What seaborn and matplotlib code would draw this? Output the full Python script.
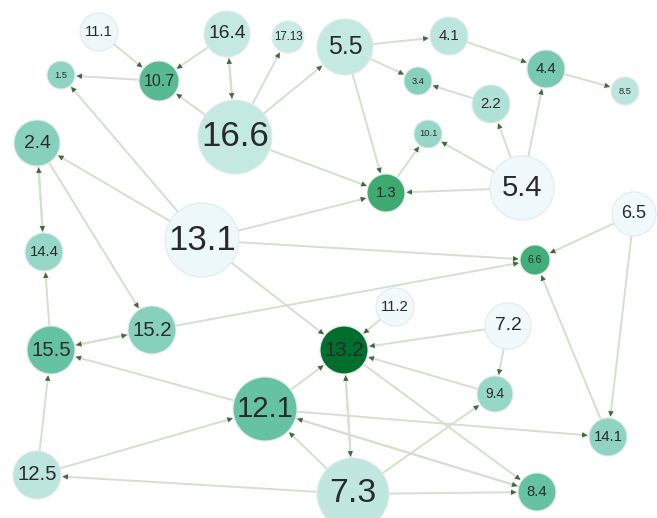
import matplotlib
matplotlib.use("Agg")
import matplotlib.pyplot as plt
import seaborn as sns
import pandas as pd

# Node data (layout position in pixels, node size, colour intensity)
labels = ["11.1", "16.4", "17.13", "5.5", "4.1", "1.5", "10.7", "3.4", "4.4", "8.5",
          "16.6", "2.2", "10.1", "2.4", "5.4", "1.3", "6.5", "13.1", "14.4", "6.6",
          "11.2", "7.2", "15.2", "15.5", "13.2", "9.4", "12.1", "14.1", "12.5", "7.3", "8.4"]
node_x = [99, 227, 288, 345, 449, 61, 159, 418, 546, 625,
          235, 491, 428, 37, 522, 386, 634, 202, 44, 535,
          395, 508, 152, 51, 344, 495, 265, 608, 37, 353, 537]
node_y = [32, 34, 37, 47, 36, 75, 81, 81, 69, 91,
          137, 104, 134, 143, 188, 193, 214, 240, 252, 260,
          307, 326, 330, 350, 350, 394, 409, 437, 475, 494, 492]
node_size = [19, 23, 16, 28, 19, 14, 20, 14, 19, 14,
             37, 19, 14, 23, 32, 19, 22, 37, 19, 15,
             19, 23, 24, 24, 24, 18, 32, 19, 24, 36, 19]
shade = [0.07, 0.27, 0.26, 0.27, 0.29, 0.40, 0.55, 0.42, 0.46, 0.29,
         0.27, 0.32, 0.38, 0.42, 0.06, 0.64, 0.05, 0.07, 0.38, 0.62,
         0.05, 0.05, 0.42, 0.50, 0.87, 0.38, 0.50, 0.40, 0.29, 0.28, 0.50]

# Directed edges
edge_src = ["11.1", "16.4", "10.7", "16.6", "16.6", "16.4", "16.6", "16.6", "16.6", "5.5",
            "5.5", "5.5", "4.1", "4.4", "2.2", "5.4", "5.4", "5.4", "5.4", "1.3",
            "13.1", "13.1", "13.1", "13.1", "13.1", "2.4", "14.4", "2.4", "15.5", "15.2",
            "15.5", "15.2", "6.5", "6.5", "14.1", "11.2", "7.2", "7.2", "9.4", "12.1",
            "12.1", "12.1", "12.1", "8.4", "13.2", "7.3", "13.2", "12.5", "12.5", "7.3",
            "7.3", "7.3", "7.3"]
edge_dst = ["10.7", "10.7", "1.5", "10.7", "16.4", "16.6", "17.13", "5.5", "1.3", "4.1",
            "3.4", "1.3", "4.4", "8.5", "3.4", "2.2", "4.4", "10.1", "1.3", "10.1",
            "1.5", "2.4", "1.3", "6.6", "13.2", "14.4", "2.4", "15.2", "14.4", "15.5",
            "15.2", "6.6", "6.6", "14.1", "6.6", "13.2", "13.2", "9.4", "13.2", "15.5",
            "13.2", "14.1", "8.4", "12.1", "7.3", "13.2", "8.4", "15.5", "12.1", "12.5",
            "12.1", "9.4", "8.4"]

nodes = pd.DataFrame({"label": labels, "x": node_x, "y": node_y,
                      "size": node_size, "shade": shade})
px2pt = 72 / 100
nodes["area"] = (2 * nodes["size"] * px2pt) ** 2
pos = nodes.set_index("label")

sns.set_style("white")
plt.rcParams["font.family"] = ["Liberation Sans", "DejaVu Sans"]

fig = plt.figure(figsize=(6.57, 5.18), dpi=100)
ax = fig.add_axes([0, 0, 1, 1])

# edge lines
for s, d in zip(edge_src, edge_dst):
    a, b = pos.loc[s], pos.loc[d]
    ax.annotate("", xy=(b.x, b.y), xytext=(a.x, a.y), zorder=1,
                arrowprops=dict(arrowstyle="-", color="#d5dfcf", lw=1.4,
                                shrinkA=a["size"] * px2pt, shrinkB=b["size"] * px2pt + 2))

# arrow heads on top of the lines, darker green
for s, d in zip(edge_src, edge_dst):
    a, b = pos.loc[s], pos.loc[d]
    ax.annotate("", xy=(b.x, b.y), xytext=(a.x, a.y), zorder=1.5,
                arrowprops=dict(arrowstyle="-|>,head_length=0.45,head_width=0.22",
                                color="#3f6a3a", lw=0, mutation_scale=9,
                                shrinkA=a["size"] * px2pt, shrinkB=b["size"] * px2pt + 1))

amin, amax = nodes["area"].min(), nodes["area"].max()
sns.scatterplot(data=nodes, x="x", y="y", hue="shade", palette="BuGn", hue_norm=(0, 1),
                size="area", sizes=(amin, amax), size_norm=(amin, amax),
                edgecolor="#e2eaec", linewidth=0.8, legend=False, ax=ax, zorder=2)

for _, n in nodes.iterrows():
    fs = max(6.5, 0.8 * n["size"] - 4.5)
    ax.text(n.x, n.y, n.label, ha="center", va="center", fontsize=fs,
            color="#2a2a2a", zorder=3)

ax.set_xlim(0, 657)
ax.set_ylim(518, 0)
ax.axis("off")

fig.savefig("out.png", dpi=100)
